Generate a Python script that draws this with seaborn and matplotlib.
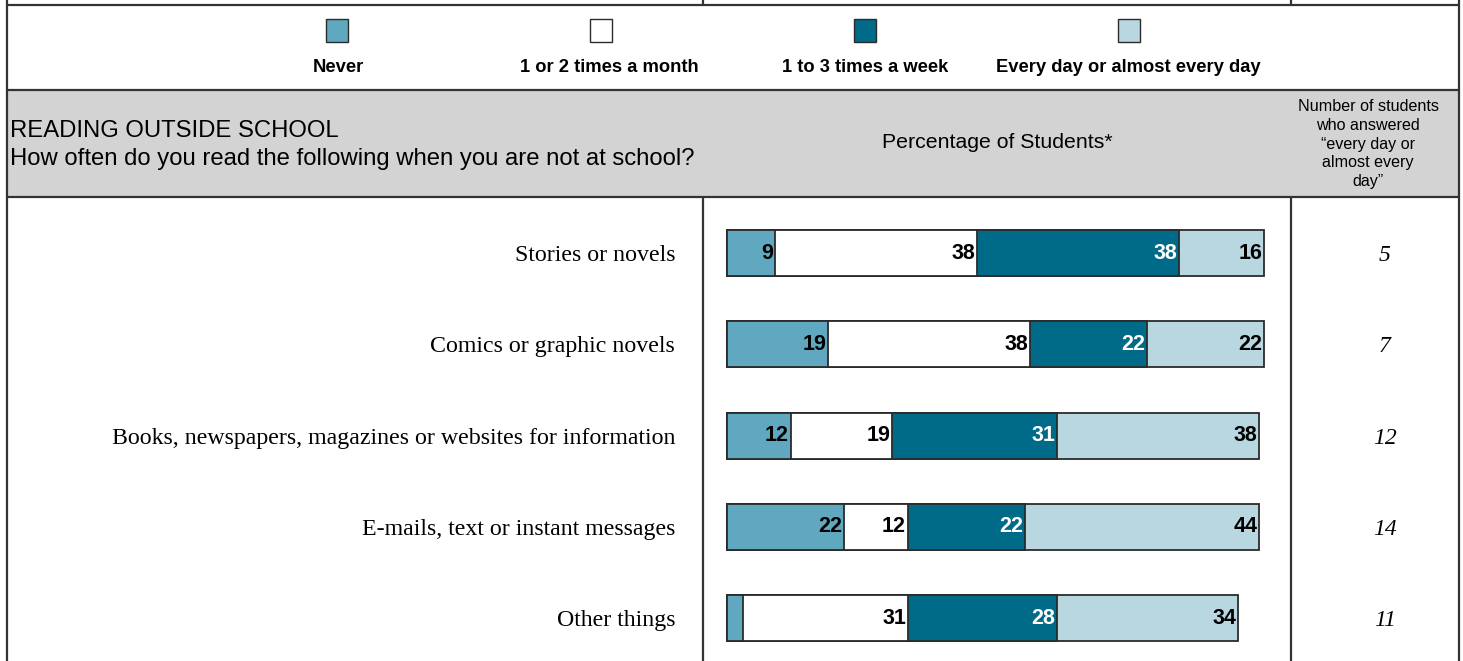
import matplotlib
matplotlib.use("Agg")
import matplotlib.pyplot as plt
from matplotlib.patches import Rectangle
from matplotlib import transforms
import seaborn as sns
import pandas as pd
import numpy as np

# ---- data ----
categories = [
    "Stories or novels",
    "Comics or graphic novels",
    "Books, newspapers, magazines or websites for information",
    "E-mails, text or instant messages",
    "Other things",
]
frequency_levels = ["Never", "1 or 2 times a month", "1 to 3 times a week",
                    "Every day or almost every day"]
never = [9, 19, 12, 22, 3]
monthly = [38, 38, 19, 12, 31]
weekly = [38, 22, 31, 22, 28]
daily = [16, 22, 38, 44, 34]
daily_counts = [5, 7, 12, 14, 11]

level_colors = ["#5FA8C0", "#FFFFFF", "#006A89", "#B8D7E1"]
label_colors = ["black", "black", "white", "black"]
edge = "#2b2b2b"

sns.set_theme(style="white")
plt.rcParams["font.family"] = ["Liberation Sans", "DejaVu Sans"]
serif = ["Liberation Serif", "DejaVu Serif"]

W, H = 1463, 661
fig = plt.figure(figsize=(W / 100, H / 100), dpi=100)
fig.patch.set_facecolor("white")

# ---- table frame drawn in pixel space ----
bg = fig.add_axes([0, 0, 1, 1])
bg.set_xlim(0, W)
bg.set_ylim(H, 0)
bg.axis("off")

left_x, right_x = 7, 1459
col1_x, col2_x = 703, 1291
top_y, legend_bottom, header_bottom = 5, 90, 197
lc = "#333333"
lw = 1.6

bg.add_patch(Rectangle((left_x, legend_bottom), right_x - left_x,
                       header_bottom - legend_bottom, facecolor="#D3D3D3",
                       edgecolor="none", zorder=0))
for y in (top_y, legend_bottom, header_bottom):
    bg.plot([left_x, right_x], [y, y], color=lc, lw=lw, zorder=2)
for x in (left_x, right_x):
    bg.plot([x, x], [0, H], color=lc, lw=lw, zorder=2)
for x in (col1_x, col2_x):
    bg.plot([x, x], [0, top_y], color=lc, lw=lw, zorder=2)
    bg.plot([x, x], [header_bottom, H], color=lc, lw=lw, zorder=2)

# legend row: swatches above labels
box_centers = [337, 601, 865, 1129]
text_centers = [338, 609, 865, 1128]
for cx, tx, col, name in zip(box_centers, text_centers, level_colors, frequency_levels):
    bg.add_patch(Rectangle((cx - 11, 19), 22, 23, facecolor=col,
                           edgecolor=edge, lw=1.0, zorder=3))
    bg.text(tx, 67, name, ha="center", va="center", fontsize=13.2,
            fontweight="bold", color="black")

# header row text
bg.text(10, 131, "READING OUTSIDE SCHOOL", ha="left", va="center",
        fontsize=17.2, color="black")
bg.text(10, 159, "How often do you read the following when you are not at school?",
        ha="left", va="center", fontsize=17.2, color="black")
bg.text(997, 143, "Percentage of Students*", ha="center", va="center",
        fontsize=15.3, color="black")
bg.text(1368, 144,
        "Number of students\nwho answered\n\u201cevery day or\nalmost every\nday\u201d",
        ha="center", va="center", fontsize=11.6, linespacing=1.33, color="black")

# ---- stacked bars ----
ax = fig.add_axes([col1_x / W, 0, (col2_x - col1_x) / W, (H - header_bottom) / H],
                  zorder=5)
ax.patch.set_alpha(0)

series = np.array([never, monthly, weekly, daily], dtype=float)
cum = np.cumsum(series, axis=0)
df = pd.DataFrame({"category": categories})
for i in range(4):
    df[f"cum{i}"] = cum[i]

for i in reversed(range(4)):
    sns.barplot(data=df, x=f"cum{i}", y="category", orient="h",
                color=level_colors[i], saturation=1, width=0.505,
                edgecolor=edge, linewidth=1.3, ax=ax)

for i in range(4):
    for r in range(len(categories)):
        val = series[i, r]
        if val < 5:
            continue
        ax.text(cum[i, r] - 0.35, r, f"{int(val)}", ha="right", va="center",
                fontsize=15.5, fontweight="bold", color=label_colors[i], zorder=10)

ax.set_xlim(-4.51, 106.0)
ax.set_ylim(4.47, -0.614)
ax.set_xlabel("")
ax.set_ylabel("")
ax.set_xticks([])
for s in ax.spines.values():
    s.set_visible(False)
ax.tick_params(axis="y", length=0, pad=20)
for t in ax.get_yticklabels():
    t.set_fontfamily(serif)
    t.set_fontsize(17.2)
    t.set_color("black")

# right column: number of daily readers
tr = transforms.blended_transform_factory(fig.transFigure, ax.transData)
for r, n in enumerate(daily_counts):
    ax.text(1385 / W, r, str(n), transform=tr, ha="center", va="center_baseline",
            fontsize=17, fontstyle="italic", fontfamily=serif, color="black",
            clip_on=False)

fig.savefig("out.png", dpi=100)
